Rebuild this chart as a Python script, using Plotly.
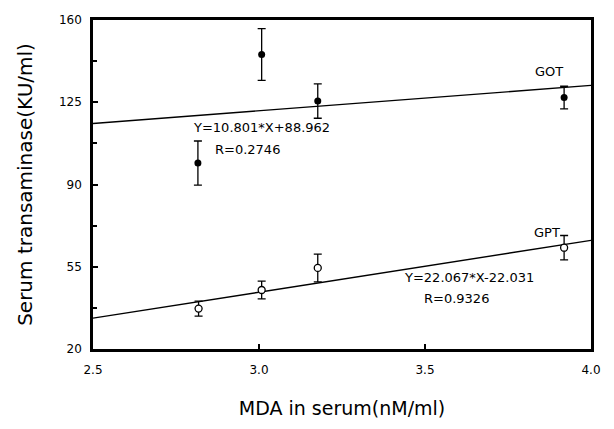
import plotly.graph_objects as go

# ---- data ----
mda_got = [2.816, 3.008, 3.177, 3.919]
got_mean = [99.1, 145.3, 125.5, 127.0]
got_err = [9.4, 11.0, 7.3, 4.8]

mda_gpt = [2.818, 3.008, 3.177, 3.919]
gpt_mean = [37.2, 45.1, 54.5, 63.1]
gpt_err = [3.2, 3.8, 5.9, 5.2]

got_slope, got_intercept = 10.801, 88.962
gpt_slope, gpt_intercept = 22.067, -22.031
fit_x = [2.5, 4.0]

x_ticks = [2.5, 3.0, 3.5, 4.0]
x_ticklabels = ["2.5", "3.0", "3.5", "4.0"]
y_ticks = [20, 55, 90, 125, 160]

FONT = "DejaVu Sans"

fig = go.Figure()

# regression lines
fig.add_trace(go.Scatter(x=fit_x, y=[got_slope * v + got_intercept for v in fit_x],
                         mode="lines", line=dict(color="black", width=1.4),
                         showlegend=False, hoverinfo="skip"))
fig.add_trace(go.Scatter(x=fit_x, y=[gpt_slope * v + gpt_intercept for v in fit_x],
                         mode="lines", line=dict(color="black", width=1.4),
                         showlegend=False, hoverinfo="skip"))

# GOT points
fig.add_trace(go.Scatter(x=mda_got, y=got_mean, mode="markers", name="GOT",
                         marker=dict(symbol="circle", size=7, color="black"),
                         error_y=dict(type="data", array=got_err, visible=True,
                                      color="black", thickness=1.3, width=4),
                         showlegend=False))
# GPT points
fig.add_trace(go.Scatter(x=mda_gpt, y=gpt_mean, mode="markers", name="GPT",
                         marker=dict(symbol="circle", size=7, color="white",
                                     line=dict(color="black", width=1.3)),
                         error_y=dict(type="data", array=gpt_err, visible=True,
                                      color="black", thickness=1.3, width=4),
                         showlegend=False))

ann_font = dict(family=FONT, size=13, color="black")
annotations = [
    dict(x=3.874, y=137.9, text="GOT"),
    dict(x=3.868, y=69.4, text="GPT"),
    dict(x=3.007, y=114.3, text="Y=10.801*X+88.962"),
    dict(x=2.965, y=105.0, text="R=0.2746"),
    dict(x=3.634, y=50.5, text="Y=22.067*X-22.031"),
    dict(x=3.595, y=41.4, text="R=0.9326"),
]
for a in annotations:
    a.update(xref="x", yref="y", showarrow=False, font=ann_font,
             xanchor="center", yanchor="middle")

# page body has an 8px default margin, so the figure is sized to fit inside the window
fig.update_layout(
    width=598, height=413,
    margin=dict(l=85, r=13, t=5, b=66),
    paper_bgcolor="white", plot_bgcolor="white",
    font=dict(family=FONT, color="black"),
    annotations=annotations,
    showlegend=False,
)

fig.update_xaxes(
    range=[2.5, 4.0], tickvals=x_ticks, ticktext=x_ticklabels,
    showgrid=False, zeroline=False,
    showline=True, linecolor="black", linewidth=2.5, mirror=True,
    ticks="inside", ticklen=5, tickwidth=2, tickcolor="black",
    tickfont=dict(family=FONT, size=12, color="black"),
    ticklabelstandoff=8,
    title=dict(text="MDA in serum(nM/ml)", font=dict(family=FONT, size=19, color="black"),
               standoff=26),
)
fig.update_yaxes(
    range=[20, 160], tickvals=y_ticks,
    showgrid=False, zeroline=False,
    showline=True, linecolor="black", linewidth=2.5, mirror=True,
    ticks="inside", ticklen=5, tickwidth=2, tickcolor="black",
    tickfont=dict(family=FONT, size=12, color="black"),
    ticklabelstandoff=6,
    minor=dict(tickvals=[37.5, 72.5, 107.5, 142.5], ticks="inside", ticklen=4,
               tickwidth=1.5, tickcolor="black", showgrid=False),
    title=dict(text="Serum transaminase(KU/ml)", font=dict(family=FONT, size=20, color="black"),
               standoff=21),
)

fig.write_html("out.html")
